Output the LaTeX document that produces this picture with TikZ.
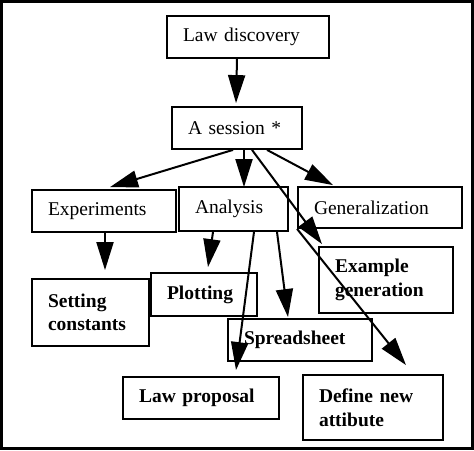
\documentclass[tikz,border=0pt]{standalone}
\usepackage{fontspec}
\setmainfont{Liberation Serif}
\usetikzlibrary{arrows.meta}
\begin{document}
\begin{tikzpicture}[x=1pt,y=-1pt,
  box/.style={draw, line width=1.8pt, fill=white, inner xsep=16pt, inner ysep=0pt,
    align=left, font=\fontsize{19.5}{23.5}\selectfont},
  bbox/.style={box, font=\fontsize{19.5}{23.5}\selectfont\bfseries},
  arr/.style={line width=2pt, -{Triangle[length=28pt,width=17pt]}}]
\useasboundingbox (0,0) rectangle (474,450);
\draw[line width=2.6pt] (1.3,1.3) rectangle (472.7,448.7);
% boxes
\node[box, text width=130pt, minimum height=42pt] (law) at (248,37) {Law discovery};
\node[box, text width=98pt, minimum height=42pt] (ses) at (237,128) {A session *};
\node[box, text width=112pt, minimum height=42pt] (exp) at (104,211) {Experiments};
\node[box, text width=77pt, minimum height=44pt] (ana) at (233.5,209) {Analysis};
\node[box, text width=132pt, minimum height=41pt] (gen) at (380,207.5) {Generalization};
\node[bbox, text width=85pt, minimum height=67pt] (set) at (90.5,312.5) {Setting\\constants};
\node[bbox, text width=74pt, minimum height=43pt] (plo) at (204,294.5) {Plotting};
\node[bbox, text width=112pt, minimum height=42pt] (spr) at (300,340) {Spreadsheet};
\node[bbox, text width=102pt, minimum height=66pt] (exa) at (386,280) {Example\\generation};
\node[bbox, text width=124pt, minimum height=42pt] (lpr) at (201,398) {Law proposal};
\node[bbox, text width=108pt, minimum height=65pt] (def) at (373,407.5) {Define new\\attibute};
% connectors
\draw[arr] ([xshift=-11pt]law.south) -- ([xshift=-1pt,yshift=3pt]ses.north);
\draw[arr] ([xshift=-4pt]ses.south) -- ([xshift=6pt,yshift=2pt]exp.north);
\draw[arr] ([xshift=7pt]ses.south) -- ([xshift=10.5pt,yshift=-1pt]ana.north);
\draw[arr] ([xshift=30pt]ses.south) -- ([xshift=-47pt,yshift=1pt]gen.north);
\draw[arr] ([xshift=15pt]ses.south) -- ([xshift=-64pt,yshift=2pt]exa.north);
\draw[arr] (gen.south west) -- ([xshift=33pt,yshift=9pt]def.north);
\draw[arr] ([xshift=1pt]exp.south) -- ([xshift=14.5pt,yshift=8pt]set.north);
\draw[arr] ([xshift=-20.5pt]ana.south) -- ([xshift=4pt,yshift=5pt]plo.north);
\draw[arr] ([xshift=20.5pt]ana.south) -- ([xshift=35pt,yshift=6pt]lpr.north);
\draw[arr] ([xshift=43.5pt]ana.south) -- ([xshift=-12pt,yshift=1pt]spr.north);
\end{tikzpicture}
\end{document}
